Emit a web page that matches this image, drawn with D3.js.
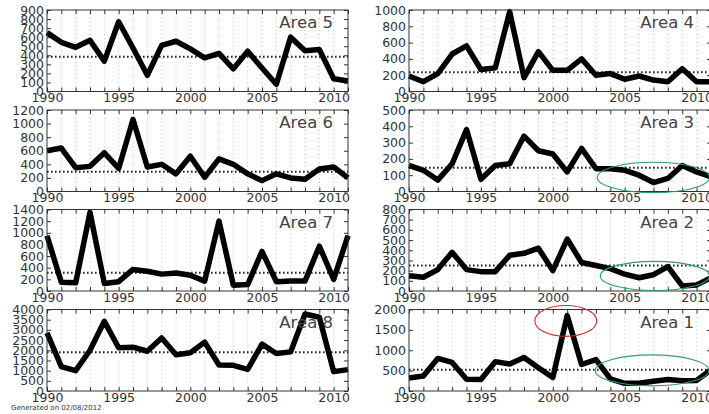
<!DOCTYPE html>
<html>
<head>
<meta charset="utf-8">
<title>Areas 1990-2011</title>
<script src="https://cdn.jsdelivr.net/npm/d3@7/dist/d3.min.js"></script>
<style>
  body { margin: 0; background: #fff; }
  text { font-family: "DejaVu Sans", sans-serif; fill: #333; }
  .axis path { display: none; }
  .axis line { stroke: #333; }
  .grid { stroke: #b0b0b0; stroke-width: 0.8px; stroke-dasharray: 1,3; }
  .mean { stroke: #222; stroke-width: 2px; stroke-dasharray: 1.6,2.4; }
  .series { fill: none; stroke: #000; stroke-width: 5.5px; stroke-linejoin: round; }
  .box { fill: none; stroke: #333; stroke-width: 1px; }
</style>
</head>
<body>
<svg id="chart" width="709" height="414"></svg>
<script>

var years = [1990, 1991, 1992, 1993, 1994, 1995, 1996, 1997, 1998, 1999, 2000,
             2001, 2002, 2003, 2004, 2005, 2006, 2007, 2008, 2009, 2010, 2011];
var yearLabels = [1990, 1995, 2000, 2005, 2010];

var leftAreas = ["Area 5", "Area 6", "Area 7", "Area 8"];
var rightAreas = ["Area 4", "Area 3", "Area 2", "Area 1"];

var area1 = [320, 370, 800, 700, 290, 280, 720, 660, 820, 570, 330, 1850, 650, 770, 300, 190, 190, 240, 280, 250, 260, 520];
var area2 = [150, 135, 210, 380, 210, 190, 190, 350, 370, 420, 200, 510, 280, 250, 220, 165, 130, 160, 240, 50, 60, 130];
var area3 = [160, 130, 70, 170, 380, 75, 160, 170, 340, 250, 230, 120, 265, 140, 140, 130, 100, 55, 80, 160, 120, 90];
var area4 = [190, 120, 220, 460, 560, 270, 290, 980, 170, 490, 260, 260, 400, 200, 220, 150, 190, 140, 120, 280, 120, 120];
var area5 = [650, 543, 488, 565, 335, 770, 480, 180, 510, 555, 470, 372, 420, 250, 445, 260, 80, 600, 450, 465, 140, 115];
var area6 = [600, 640, 350, 370, 570, 340, 1060, 360, 400, 260, 520, 210, 480, 400, 260, 160, 260, 200, 180, 330, 360, 200];
var area7 = [950, 150, 140, 1350, 130, 160, 370, 340, 290, 310, 270, 170, 1200, 100, 110, 680, 160, 170, 170, 770, 200, 950];
var area8 = [2850, 1200, 1000, 2000, 3420, 2120, 2150, 1950, 2600, 1780, 1880, 2400, 1280, 1260, 1060, 2300, 1840, 1920, 3780, 3620, 950, 1050];

// dotted reference level of each area
var means = { "Area 1": 520, "Area 2": 250, "Area 3": 145, "Area 4": 235,
              "Area 5": 385, "Area 6": 290, "Area 7": 315, "Area 8": 1900 };
// y axis top and tick step
var yMax  = { "Area 1": 2000, "Area 2": 800, "Area 3": 500, "Area 4": 1000,
              "Area 5": 900, "Area 6": 1200, "Area 7": 1400, "Area 8": 4000 };
var yStep = { "Area 1": 500, "Area 2": 100, "Area 3": 100, "Area 4": 200,
              "Area 5": 100, "Area 6": 200, "Area 7": 200, "Area 8": 500 };
var values = { "Area 1": area1, "Area 2": area2, "Area 3": area3, "Area 4": area4,
               "Area 5": area5, "Area 6": area6, "Area 7": area7, "Area 8": area8 };

// hand drawn circles: area, centre year, centre value, radius in years, radius in value, colour
var marks = [
  ["Area 3", 2007, 86, 3.9, 93, "#2e9e6b"],
  ["Area 2", 2007.1, 148, 3.8, 143, "#2e9e6b"],
  ["Area 1", 2006.9, 506, 3.95, 380, "#2e9e6b"],
  ["Area 1", 2000.9, 1720, 2.15, 380, "#d42a2a"]
];

var svg = d3.select("#chart");
var panelTops = [10, 110, 209.5, 309.5];
var panelH = 81.5;
var columns = [{ x0: 47, x1: 348, areas: leftAreas }, { x0: 409, x1: 711, areas: rightAreas }];
var yScales = {}, xScales = {};

columns.forEach(function(col) {
  col.areas.forEach(function(name, i) {
    var top = panelTops[i], bottom = top + panelH;
    var x = d3.scaleLinear().domain([1990, 2011]).range([col.x0, col.x1]);
    var y = d3.scaleLinear().domain([0, yMax[name]]).range([bottom, top]);
    xScales[name] = x; yScales[name] = y;
    var ticks = d3.range(0, yMax[name] + 1, yStep[name]);
    var g = svg.append("g");

    g.selectAll(".grid").data(years.slice(1, -1)).enter().append("line")
      .attr("class", "grid")
      .attr("x1", function(d) { return x(d); }).attr("x2", function(d) { return x(d); })
      .attr("y1", top).attr("y2", bottom);

    g.append("g").attr("class", "axis").attr("transform", "translate(" + col.x0 + ",0)")
      .call(d3.axisLeft(y).tickValues(ticks).tickSize(-4).tickPadding(3).tickFormat(d3.format("d")))
      .selectAll("text").style("font-size", "12.5px");
    g.append("g").attr("class", "axis").attr("transform", "translate(" + col.x1 + ",0)")
      .call(d3.axisRight(y).tickValues(ticks).tickSize(-4).tickFormat(""));
    g.append("g").attr("class", "axis").attr("transform", "translate(0," + bottom + ")")
      .call(d3.axisBottom(x).tickValues(years).tickSize(-4).tickPadding(2)
        .tickFormat(function(d) { return yearLabels.indexOf(d) >= 0 ? d : ""; }))
      .selectAll("text").style("font-size", "12.5px");
    g.append("g").attr("class", "axis").attr("transform", "translate(0," + top + ")")
      .call(d3.axisTop(x).tickValues(years).tickSize(-4).tickFormat(""));

    g.append("line").attr("class", "mean")
      .attr("x1", col.x0).attr("x2", col.x1)
      .attr("y1", y(means[name])).attr("y2", y(means[name]));

    var line = d3.line()
      .x(function(d, j) { return x(years[j]); })
      .y(function(d) { return y(d); });
    g.append("path").attr("class", "series").attr("d", line(values[name]));

    g.append("rect").attr("class", "box")
      .attr("x", col.x0).attr("y", top)
      .attr("width", col.x1 - col.x0).attr("height", panelH);

    g.append("text")
      .attr("x", (col.x1 > 709 ? 709 : col.x1) - 15).attr("y", top + 18)
      .attr("text-anchor", "end")
      .style("font-size", "16.5px").style("fill", "#444")
      .text(name);
  });
});

marks.forEach(function(m) {
  var x = xScales[m[0]], y = yScales[m[0]];
  svg.append("ellipse")
    .attr("cx", x(m[1])).attr("cy", y(m[2]))
    .attr("rx", x(m[1] + m[3]) - x(m[1]))
    .attr("ry", y(0) - y(m[4]))
    .style("fill", "none").style("stroke", m[5]).style("stroke-width", 1.1);
});

svg.append("text").attr("x", 11).attr("y", 410)
  .style("font-size", "7px").style("fill", "#333")
  .text("Generated on 02/08/2012");

</script>
</body>
</html>
